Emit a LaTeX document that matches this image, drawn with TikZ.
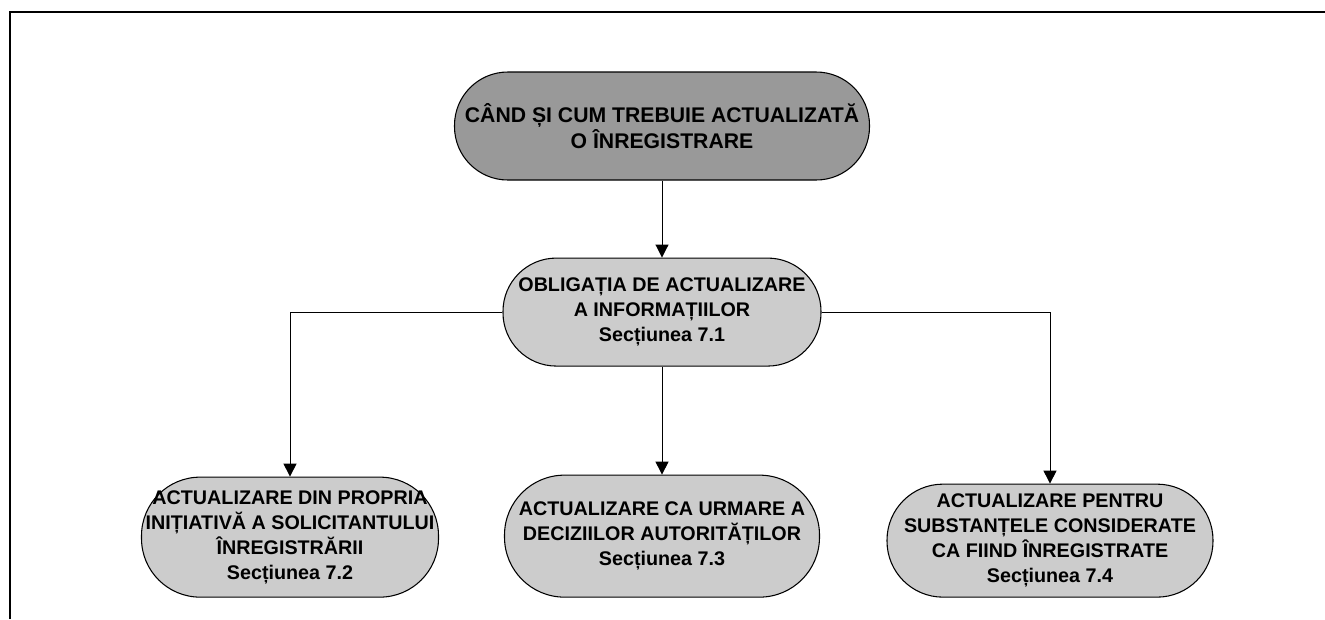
\documentclass[tikz,border=0pt]{standalone}
\usepackage{fontspec}
\setmainfont{Liberation Sans}
\usetikzlibrary{arrows.meta,positioning}
\definecolor{headgray}{gray}{0.6}
\definecolor{boxgray}{gray}{0.8}

\begin{document}
\begin{tikzpicture}[
  x=0.75pt, y=-0.75pt,
  font=\bfseries\fontsize{14.8}{18.75}\selectfont,
  box/.style={draw, line width=0.8pt, fill=boxgray, align=center, inner sep=0pt},
  arrow/.style={-{Triangle[length=9.75pt, width=9.75pt]}, line width=0.75pt}
]
\useasboundingbox (0,0) rectangle (1325,619);

% page frame
\draw[line width=1.5pt] (10,619) -- (10,12) -- (1325,12);

\node[box, fill=headgray, minimum width=311.25pt, minimum height=81pt, rounded corners=40pt,
  font=\bfseries\fontsize{15.9}{17}\selectfont] (when) at (662,126)
  {CÂND ȘI CUM TREBUIE ACTUALIZATĂ\\O ÎNREGISTRARE};
\node[box, below=57.75pt of when, minimum width=238.5pt, minimum height=81pt, rounded corners=40pt] (oblig)
  {OBLIGAȚIA DE ACTUALIZARE\\A INFORMAȚIILOR\\Secțiunea 7.1};

\node[box, below=82.5pt of oblig, xshift=-279pt, minimum width=222.75pt, minimum height=90pt, rounded corners=44pt] (own)
  {ACTUALIZARE DIN PROPRIA\\INIȚIATIVĂ A SOLICITANTULUI\\ÎNREGISTRĂRII\\Secțiunea 7.2};
\node[box, below=81pt of oblig, minimum width=236.25pt, minimum height=91.5pt, rounded corners=45pt] (auth)
  {ACTUALIZARE CA URMARE A\\DECIZIILOR AUTORITĂȚILOR\\Secțiunea 7.3};
\node[box, below=87.75pt of oblig, xshift=291pt, minimum width=244.5pt, minimum height=84.75pt, rounded corners=42pt] (deemed)
  {ACTUALIZARE PENTRU\\SUBSTANȚELE CONSIDERATE\\CA FIIND ÎNREGISTRATE\\Secțiunea 7.4};

\draw[arrow] (when) -- (oblig);
\draw[arrow] (oblig) -- (auth);
\draw[arrow] (oblig.west) -| (own.north);
\draw[arrow] (oblig.east) -| (deemed.north);

\end{tikzpicture}
\end{document}
